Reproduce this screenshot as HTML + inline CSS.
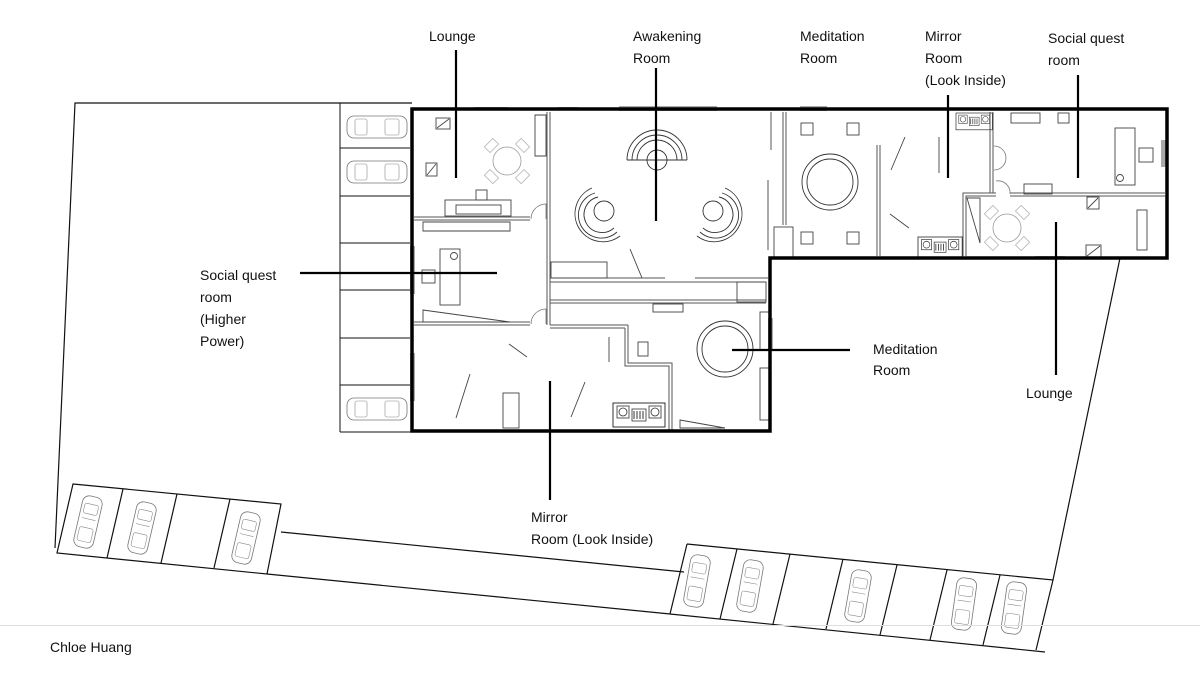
<!DOCTYPE html>
<html><head><meta charset="utf-8"><style>
body{margin:0;background:#fff;width:1200px;height:675px;overflow:hidden}
svg{display:block}
text{font-family:"Liberation Sans",sans-serif;font-size:14px;fill:#111}
</style></head><body>
<svg width="1200" height="675" viewBox="0 0 1200 675">
<defs>
<g id="car">
<rect x="-10" y="-26" width="20" height="52" rx="7" fill="#fff" stroke="#777" stroke-width="0.8"/>
<rect x="-7" y="-18" width="14" height="10" rx="2" fill="none" stroke="#888" stroke-width="0.6"/>
<rect x="-7" y="6" width="14" height="14" rx="2" fill="none" stroke="#888" stroke-width="0.6"/>
<line x1="-7" y1="-3" x2="7" y2="-3" stroke="#888" stroke-width="0.6"/>
</g>
<g id="hcar">
<rect x="-30" y="-11" width="60" height="22" rx="7" fill="#fff" stroke="#777" stroke-width="0.8"/>
<rect x="-22" y="-8" width="12" height="16" rx="2" fill="none" stroke="#888" stroke-width="0.6"/>
<rect x="8" y="-8" width="14" height="16" rx="2" fill="none" stroke="#888" stroke-width="0.6"/>
</g>
<g id="table">
<circle r="14" fill="none" stroke="#999" stroke-width="0.8"/>
<rect x="-6" y="-26" width="12" height="8" fill="none" stroke="#aaa" stroke-width="0.7" transform="rotate(45)"/>
<rect x="-6" y="-26" width="12" height="8" fill="none" stroke="#aaa" stroke-width="0.7" transform="rotate(135)"/>
<rect x="-6" y="-26" width="12" height="8" fill="none" stroke="#aaa" stroke-width="0.7" transform="rotate(225)"/>
<rect x="-6" y="-26" width="12" height="8" fill="none" stroke="#aaa" stroke-width="0.7" transform="rotate(315)"/>
</g>
<g id="dj">
<rect x="0" y="0" width="52" height="24" fill="none" stroke="#333" stroke-width="1"/>
<rect x="4" y="3" width="12" height="12" fill="none" stroke="#333" stroke-width="0.8"/>
<circle cx="10" cy="9" r="4" fill="none" stroke="#333" stroke-width="0.8"/>
<rect x="36" y="3" width="12" height="12" fill="none" stroke="#333" stroke-width="0.8"/>
<circle cx="42" cy="9" r="4" fill="none" stroke="#333" stroke-width="0.8"/>
<rect x="19" y="6" width="14" height="12" fill="none" stroke="#333" stroke-width="0.8"/>
<line x1="21" y1="8" x2="21" y2="16" stroke="#333"/><line x1="24" y1="8" x2="24" y2="16" stroke="#333"/><line x1="27" y1="8" x2="27" y2="16" stroke="#333"/><line x1="30" y1="8" x2="30" y2="16" stroke="#333"/>
</g>
</defs>

<g fill="none" stroke="#111" stroke-width="1.2">
<polyline points="340,103 75,103 55,548"/>
<line x1="340" y1="103" x2="412" y2="103"/>
<polygon points="73,484 281,504 267,574 57,553"/>
<line x1="123" y1="489" x2="107" y2="558"/>
<line x1="177" y1="494" x2="161" y2="563"/>
<line x1="230" y1="499" x2="214" y2="568"/>
<line x1="281" y1="532" x2="684" y2="572"/>
<line x1="267" y1="574" x2="670" y2="614"/>
<polyline points="687,544 1053,580 1120,258"/>
<line x1="687" y1="544" x2="670" y2="614"/>
<line x1="670" y1="614" x2="1045" y2="652"/>
<line x1="737" y1="549" x2="720" y2="619"/>
<line x1="790" y1="554" x2="773" y2="624"/>
<line x1="843" y1="559" x2="826" y2="629"/>
<line x1="897" y1="565" x2="880" y2="635"/>
<line x1="947" y1="570" x2="930" y2="640"/>
<line x1="1000" y1="575" x2="983" y2="645"/>
<line x1="1053" y1="580" x2="1036" y2="650"/>
</g>
<use href="#car" transform="translate(88,522) rotate(13)"/>
<use href="#car" transform="translate(142,528) rotate(13)"/>
<use href="#car" transform="translate(246,538) rotate(13)"/>
<use href="#car" transform="translate(697,581) rotate(10)"/>
<use href="#car" transform="translate(750,586) rotate(10)"/>
<use href="#car" transform="translate(858,596) rotate(10)"/>
<use href="#car" transform="translate(964,604) rotate(8)"/>
<use href="#car" transform="translate(1014,608) rotate(8)"/>

<g fill="none" stroke="#111" stroke-width="1">
<line x1="340" y1="103" x2="340" y2="432"/>
<line x1="340" y1="432" x2="412" y2="432"/>
<line x1="340" y1="148" x2="410" y2="148"/>
<line x1="340" y1="196" x2="410" y2="196"/>
<line x1="340" y1="243" x2="410" y2="243"/>
<line x1="340" y1="290" x2="410" y2="290"/>
<line x1="340" y1="338" x2="410" y2="338"/>
<line x1="340" y1="385" x2="410" y2="385"/>
</g>
<use href="#hcar" transform="translate(377,127)"/>
<use href="#hcar" transform="translate(377,172)"/>
<use href="#hcar" transform="translate(377,409)"/>

<g fill="none" stroke="#555" stroke-width="1">
<line x1="547" y1="112" x2="547" y2="325"/><line x1="550" y1="112" x2="550" y2="325"/>
<line x1="414" y1="217" x2="530" y2="217"/><line x1="414" y1="220" x2="530" y2="220"/>
<line x1="414" y1="322" x2="530" y2="322"/><line x1="414" y1="325" x2="530" y2="325"/>
<line x1="550" y1="282" x2="766" y2="282"/><line x1="550" y1="303" x2="766" y2="303"/>
<line x1="550" y1="300" x2="766" y2="300"/>
<line x1="550" y1="325" x2="628" y2="325"/><line x1="550" y1="328" x2="625" y2="328"/>
<polyline points="628,325 628,363 672,363 672,432"/>
<polyline points="625,328 625,366 669,366 669,432"/>
<line x1="551" y1="278" x2="665" y2="278"/><line x1="695" y1="278" x2="768" y2="278"/>
<line x1="783" y1="112" x2="783" y2="225"/><line x1="786" y1="112" x2="786" y2="225"/>
<line x1="877" y1="145" x2="877" y2="256"/><line x1="880" y1="145" x2="880" y2="256"/>
<line x1="990" y1="112" x2="990" y2="193"/><line x1="993" y1="112" x2="993" y2="193"/>
<polyline points="963,256 963,193 996,193"/>
<polyline points="966,256 966,196 996,196"/>
<line x1="1010" y1="193" x2="1165" y2="193"/><line x1="1010" y1="196" x2="1165" y2="196"/>
<line x1="771" y1="112" x2="771" y2="150"/><line x1="768" y1="180" x2="768" y2="250"/>
</g>
<g fill="none" stroke="#777" stroke-width="0.8">
<path d="M531,219 A15,15 0 0 1 546,204 L546,219"/>
<path d="M531,324 A15,15 0 0 1 546,309 L546,324"/>
<path d="M994,146 A12,12 0 0 1 994,170"/>
<path d="M996,181 A12,12 0 0 1 1010,194"/>
</g>

<g fill="none" stroke="#444" stroke-width="0.9">
<rect x="436" y="118" width="14" height="11"/><line x1="437" y1="128" x2="449" y2="119"/>
<rect x="426" y="163" width="11" height="13"/><line x1="427" y1="175" x2="436" y2="164"/>
<rect x="445" y="200" width="66" height="16"/><rect x="456" y="205" width="45" height="9"/>
<rect x="476" y="190" width="11" height="10"/>
<polygon points="423,222 510,222 510,231 423,231"/>
<rect x="440" y="249" width="20" height="56"/>
<circle cx="454" cy="256" r="3.5"/>
<rect x="422" y="270" width="13" height="13"/>
<polygon points="423,310 510,322 423,322"/>
<polygon points="535,115 546,115 546,156 535,156"/>
<rect x="551" y="262" width="56" height="16"/>
<rect x="737" y="282" width="29" height="20"/>
<rect x="653" y="304" width="30" height="8"/>
<rect x="638" y="342" width="10" height="14"/>
<rect x="774" y="227" width="19" height="30"/>
<rect x="801" y="123" width="12" height="12"/><rect x="847" y="123" width="12" height="12"/>
<rect x="801" y="232" width="12" height="12"/><rect x="847" y="232" width="12" height="12"/>
<rect x="1115" y="128" width="20" height="57"/><circle cx="1120" cy="178" r="3.5"/>
<rect x="1139" y="148" width="14" height="14"/>
<rect x="1024" y="184" width="28" height="10"/>
<rect x="1011" y="113" width="29" height="10"/>
<rect x="1058" y="113" width="11" height="10"/>
<rect x="1087" y="197" width="12" height="12"/><line x1="1088" y1="208" x2="1098" y2="198"/>
<rect x="1086" y="245" width="15" height="12"/><line x1="1087" y1="256" x2="1100" y2="246"/>
<rect x="1137" y="210" width="10" height="40"/>
<polygon points="967,198 980,198 980,243"/>
<line x1="509" y1="344" x2="527" y2="357"/>
<line x1="470" y1="374" x2="456" y2="418"/>
<line x1="585" y1="382" x2="571" y2="417"/>
<line x1="609" y1="337" x2="609" y2="362"/>
<line x1="905" y1="137" x2="891" y2="170"/>
<line x1="939" y1="137" x2="939" y2="173"/>
<line x1="890" y1="214" x2="909" y2="228"/>
<line x1="630" y1="249" x2="642" y2="278"/>
<rect x="503" y="393" width="16" height="35"/>
<rect x="760" y="312" width="9" height="38"/>
<rect x="760" y="368" width="9" height="52"/>
<polygon points="680,420 725,428 680,428"/>
</g>
<use href="#dj" transform="translate(613,403)"/>
<use href="#dj" transform="translate(918,237) scale(0.85)"/>
<use href="#dj" transform="translate(956,113) scale(0.7)"/>
<use href="#table" transform="translate(507,161)"/>
<use href="#table" transform="translate(1007,228)"/>

<g fill="none" stroke="#333" stroke-width="0.9">
<circle cx="657" cy="160" r="10"/>
<path d="M627,160 A30,30 0 0 1 687,160 M632,160 A25,25 0 0 1 682,160 M637,160 A20,20 0 0 1 677,160 M627,160 L687,160"/>
<circle cx="604" cy="211" r="10"/>
<path d="M592,188 A28,28 0 1 0 620,236 M595,193 A23,23 0 1 0 617,232 M598,197 A18,18 0 1 0 614,228"/>
<circle cx="713" cy="211" r="10"/>
<path d="M725,188 A28,28 0 1 1 697,236 M722,193 A23,23 0 1 1 700,232 M719,197 A18,18 0 1 1 703,228"/>
<circle cx="830" cy="182" r="28"/><circle cx="830" cy="182" r="23"/>
<circle cx="725" cy="349" r="28"/><circle cx="725" cy="349" r="23"/>
</g>

<g fill="#aaa">
<rect x="474" y="107" width="34" height="3"/><rect x="558" y="107" width="20" height="3"/>
<rect x="619" y="106" width="98" height="5"/><rect x="800" y="106" width="27" height="5"/>
<rect x="410" y="246" width="5" height="48"/><rect x="410" y="353" width="5" height="48"/>
<rect x="1161" y="140" width="5" height="27"/><rect x="768" y="318" width="5" height="33"/>
<rect x="1035" y="256" width="30" height="3"/>
</g>

<polygon points="412,109 1167,109 1167,258 770,258 770,431 412,431" fill="none" stroke="#000" stroke-width="3.5"/>

<g stroke="#000" stroke-width="2.2">
<line x1="456" y1="50" x2="456" y2="178"/>
<line x1="656" y1="68" x2="656" y2="221"/>
<line x1="948" y1="95" x2="948" y2="178"/>
<line x1="1078" y1="75" x2="1078" y2="178"/>
<line x1="300" y1="273" x2="497" y2="273"/>
<line x1="732" y1="350" x2="850" y2="350"/>
<line x1="1056" y1="222" x2="1056" y2="375"/>
<line x1="550" y1="381" x2="550" y2="500"/>
</g>

<text x="429" y="41">Lounge</text>
<text x="633" y="41">Awakening</text><text x="633" y="63">Room</text>
<text x="800" y="41">Meditation</text><text x="800" y="63">Room</text>
<text x="925" y="41">Mirror</text><text x="925" y="63">Room</text><text x="925" y="85">(Look Inside)</text>
<text x="1048" y="43">Social quest</text><text x="1048" y="65">room</text>
<text x="200" y="280">Social quest</text><text x="200" y="302">room</text><text x="200" y="324">(Higher</text><text x="200" y="346">Power)</text>
<text x="873" y="354">Meditation</text><text x="873" y="375">Room</text>
<text x="1026" y="398">Lounge</text>
<text x="531" y="522">Mirror</text><text x="531" y="544">Room (Look Inside)</text>

<line x1="0" y1="625.5" x2="1200" y2="625.5" stroke="#ddd" stroke-width="1"/>
<text x="50" y="652" style="font-size:14px">Chloe Huang</text>
</svg>
</body></html>
